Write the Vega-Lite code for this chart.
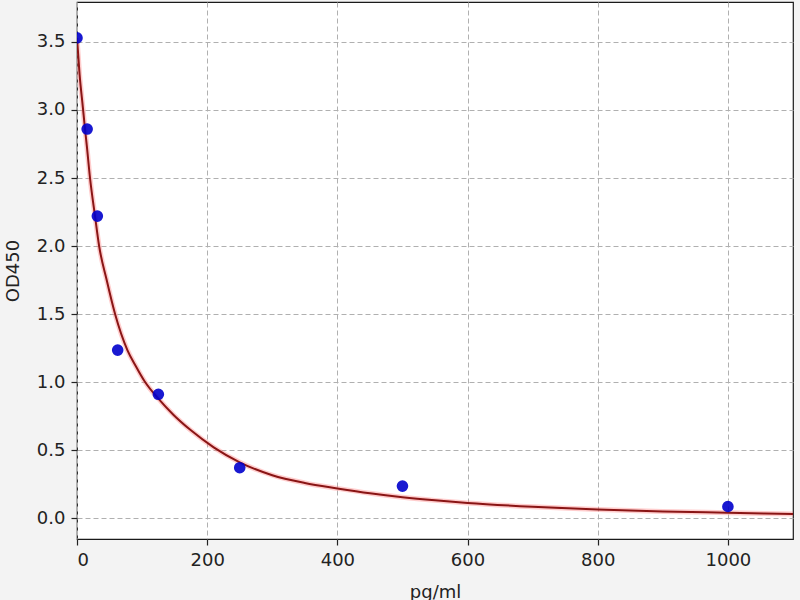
{
  "$schema": "https://vega.github.io/schema/vega-lite/v6.json",
  "width": 716,
  "height": 537,
  "autosize": {"type": "none"},
  "padding": {"left": 77, "top": 2, "right": 7, "bottom": 61},
  "background": "#f3f3f3",
  "config": {
    "view": {"fill": "white", "stroke": "#1a1a1a", "strokeWidth": 1.2},
    "font": "DejaVu Sans",
    "axis": {
      "domain": false,
      "tickColor": "#222222",
      "tickSize": 6,
      "tickWidth": 1.2,
      "labelFont": "DejaVu Sans",
      "labelFontSize": 18,
      "labelColor": "#222222",
      "titleFont": "DejaVu Sans",
      "titleFontSize": 18,
      "titleFontWeight": "normal",
      "titleColor": "#222222",
      "gridColor": "#b0b0b0",
      "gridDash": [5, 3],
      "gridWidth": 1
    }
  },
  "datasets": {
    "standards": [
      {"conc": 0, "od": 3.53},
      {"conc": 15.6, "od": 2.86},
      {"conc": 31.25, "od": 2.22},
      {"conc": 62.5, "od": 1.235},
      {"conc": 125, "od": 0.91},
      {"conc": 250, "od": 0.37},
      {"conc": 500, "od": 0.235},
      {"conc": 1000, "od": 0.085}
    ],
    "fit": [
      {"conc": 0, "od": 3.53},
      {"conc": 4, "od": 3.26},
      {"conc": 9, "od": 3.02},
      {"conc": 12.3, "od": 2.86},
      {"conc": 15, "od": 2.74},
      {"conc": 20, "od": 2.5},
      {"conc": 27.7, "od": 2.22},
      {"conc": 34, "od": 2.0},
      {"conc": 45.6, "od": 1.75},
      {"conc": 58.5, "od": 1.5},
      {"conc": 77.4, "od": 1.235},
      {"conc": 90, "od": 1.12},
      {"conc": 104.6, "od": 1.0},
      {"conc": 125, "od": 0.878},
      {"conc": 148, "od": 0.76},
      {"conc": 175, "od": 0.645},
      {"conc": 210, "od": 0.52},
      {"conc": 250, "od": 0.41},
      {"conc": 300, "od": 0.315},
      {"conc": 350, "od": 0.258},
      {"conc": 400, "od": 0.218},
      {"conc": 450, "od": 0.182},
      {"conc": 500, "od": 0.153},
      {"conc": 550, "od": 0.13},
      {"conc": 600, "od": 0.111},
      {"conc": 700, "od": 0.083},
      {"conc": 800, "od": 0.062},
      {"conc": 900, "od": 0.048},
      {"conc": 1000, "od": 0.039},
      {"conc": 1100, "od": 0.03}
    ]
  },
  "encoding": {
    "x": {
      "field": "conc",
      "type": "quantitative",
      "title": "pg/ml",
      "scale": {"domain": [0, 1100], "nice": false, "zero": false},
      "axis": {
        "values": [0, 200, 400, 600, 800, 1000],
        "format": "d",
        "labelPadding": 6,
        "titleBaseline": "alphabetic",
        "titleY": 58
      }
    },
    "y": {
      "field": "od",
      "type": "quantitative",
      "title": "OD450",
      "scale": {"domain": [-0.154, 3.794], "nice": false, "zero": false},
      "axis": {
        "values": [0, 0.5, 1, 1.5, 2, 2.5, 3, 3.5],
        "format": ".1f",
        "labelPadding": 6,
        "titleBaseline": "alphabetic",
        "titleX": -59
      }
    }
  },
  "layer": [
    {
      "data": {"name": "fit"},
      "mark": {"type": "line", "interpolate": "monotone", "color": "#ff7070", "strokeWidth": 5, "opacity": 0.35, "clip": true}
    },
    {
      "data": {"name": "fit"},
      "mark": {"type": "line", "interpolate": "monotone", "color": "#8a1515", "strokeWidth": 2, "clip": true}
    },
    {
      "data": {"name": "standards"},
      "mark": {"type": "point", "filled": true, "shape": "circle", "size": 135, "color": "#0000cc", "opacity": 0.9, "clip": true}
    }
  ]
}
